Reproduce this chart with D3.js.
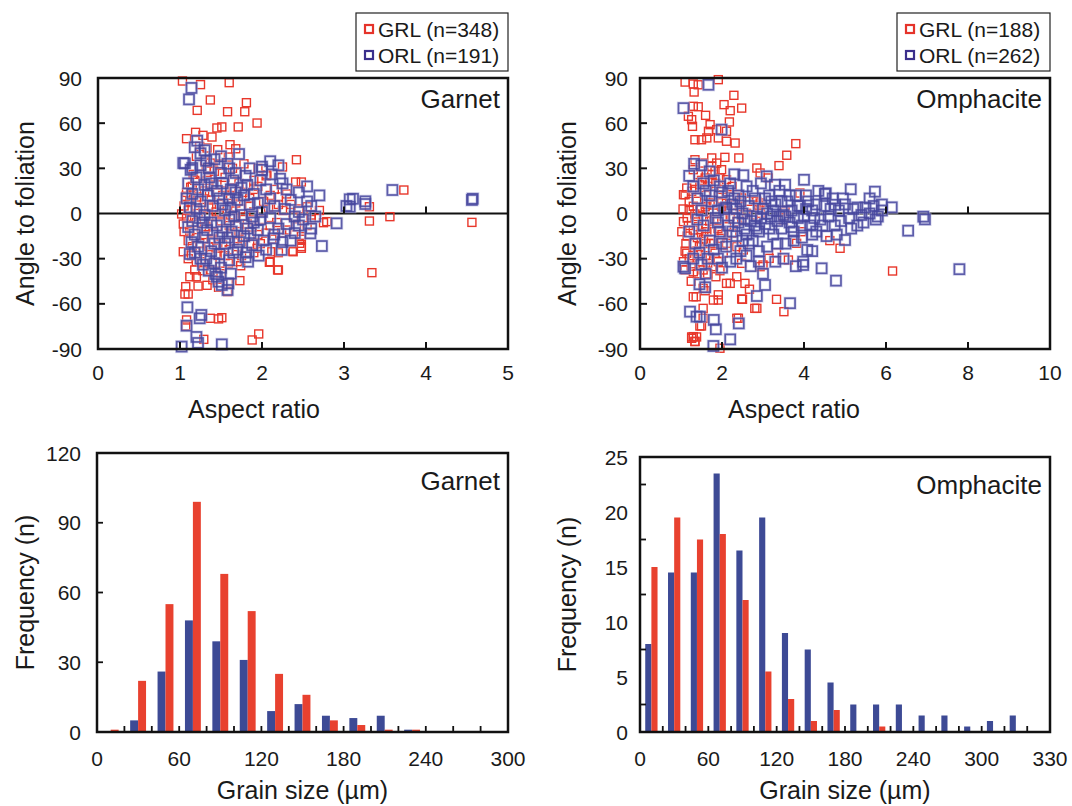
<!DOCTYPE html>
<html><head><meta charset="utf-8">
<script src="https://cdn.jsdelivr.net/npm/d3@7"></script>
<style>body{margin:0;background:#fff}svg{display:block}text{font-family:"Liberation Sans",Arial,sans-serif;fill:#1a1a1a}</style>
</head><body><svg id="c" width="1072" height="806"></svg>
<script>
// ---------- DATA ----------
const angleTicks = [-90,-60,-30,0,30,60,90];
const garnetAspectTicks = [0,1,2,3,4,5];
const omphAspectTicks = [0,2,4,6,8,10];
const garnetSizeTickPos = [0,60,120,180,240,300];
const garnetSizeTickLabels = ["0","60","120","180","240","300"];
const omphSizeTickPos = [0,60,120,180,240,300,360];
const omphSizeTickLabels = ["0","60","120","180","240","300","330"];
const garnetFreqTicks = [0,30,60,90,120];
const omphFreqTicks = [0,5,10,15,20,25];
const legendGarnet = ["GRL (n=348)","ORL (n=191)"];
const legendOmph = ["GRL (n=188)","ORL (n=262)"];

// Histogram (20 µm classes)
const garnetBins = ["0-20","20-40","40-60","60-80","80-100","100-120","120-140","140-160","160-180","180-200","200-220","220-240","240-260","260-280","280-300"];
const garnetHistGRL = [1,22,55,99,68,52,25,16,5,3,1,1,0,0,0];
const garnetHistORL = [0,5,26,48,39,31,9,12,7,6,7,1,0,0,0];
const omphBins = ["0-20","20-40","40-60","60-80","80-100","100-120","120-140","140-160","160-180","180-200","200-220","220-240","240-260","260-280","280-300","300-320","320-340","340-360"];
const omphHistGRL = [15,19.5,17.5,18,12,5.5,3,1,2,0,0.5,0,0,0,0,0,0,0];
const omphHistORL = [8,14.5,14.5,23.5,16.5,19.5,9,7.5,4.5,2.5,2.5,2.5,1.5,1.5,0.5,1,1.5,0];

// Scatter: [aspect ratio, angle to foliation]
const garnetGRL = [
[1.03,88],[1.25,85.6],[1.6,86.9],[1.37,75.4],[1.81,73.6],[1.21,68.5],[1.58,67.6],[1.79,67.6],[1.94,60.1],[1.71,57.5],
[1.51,57.5],[1.45,56.8],[1.19,53.9],[1.08,49.7],[1.28,51.9],[1.39,50.8],[1.61,45.7],[1.68,43],[1.46,42.4],[1.33,43.5],
[1.24,44.6],[1.59,37.5],[1.37,33.5],[1.36,29.1],[2.42,35.7],[2.25,30.9],[2.06,25.8],[1.13,17.4],[1.07,11.4],[2.41,20.9],
[2.48,20.9],[1.02,-0.3],[1.04,-7],[1.04,-25.4],[1.2,-32],[1.18,-37.5],[1.28,-38],[1.39,-33],[1.37,-37.5],[1.49,-33],
[1.59,-33],[1.74,-34.7],[1.73,-44.6],[1.59,-46.4],[1.58,-51.9],[1.47,-49],[1.22,-48.2],[1.33,-47.7],[1.07,-48.6],[1.06,-53.5],
[1.1,-53.5],[1.08,-70.7],[1.07,-74.7],[1.37,-69.6],[1.47,-70],[1.51,-69.2],[1.29,-83.6],[1.88,-84],[1.96,-80],[2.09,-32.4],
[2.2,-37.5],[2.38,-25.4],[2.48,-22],[2.48,-17.1],[2.42,-8.8],[2.24,-12.8],[2.12,-25.4],[1.94,-23.1],[3.31,4.5],[3.31,-5],
[3.56,-2.1],[4.56,-5.9],[3.34,-39.3],[2.75,-6.1],[2.79,-5.4],[2.6,-1],[2.55,4.5],[2.37,-25],[2.48,-23.1],[2.1,-32],
[2.19,-37.5],[2.48,-15.4],[2.46,-19.8],[3.73,15.6],
[1.25,26],[1.42,28],[1.55,24],[1.7,27],[1.9,22],[2.05,25],[1.33,22],
[1.15,18],[1.3,15],[1.45,19],[1.62,17],[1.78,14],[1.95,18],[2.15,16],[2.3,13],
[1.12,8],[1.22,11],[1.38,9],[1.52,12],[1.68,7],[1.85,10],[2.02,8],[2.2,11],[2.35,6],
[1.1,2],[1.28,4],[1.44,1],[1.58,5],[1.74,3],[1.9,1],[2.08,4],[2.25,2],[2.45,3],
[1.08,-3],[1.2,-6],[1.35,-2],[1.5,-5],[1.66,-3],[1.82,-7],[2.0,-4],[2.18,-6],[2.38,-2],
[1.12,-12],[1.26,-9],[1.4,-13],[1.55,-10],[1.72,-12],[1.88,-9],[2.05,-13],[2.3,-11],
[1.1,-18],[1.24,-20],[1.38,-17],[1.52,-21],[1.66,-18],[1.8,-16],[1.98,-20],[2.12,-17],
[1.14,-28],[1.28,-25],[1.44,-27],[1.6,-24],[1.75,-28],[1.9,-26],[2.2,-26],
[1.18,22],[1.36,14],[1.48,6],[1.62,-1],[1.3,-14],[1.46,-23],[1.72,20],[1.6,12],[1.15,-22],[1.95,-14],
[1.85,5],[1.4,-7],[1.22,0],[2.1,12],[1.7,-22],[1.05,5],[1.05,-12],[1.08,14],[2.6,-4],[2.7,2],[2.55,-8],[1.3,35],[1.5,33],[1.2,38],
[1.16,26],[1.32,30],[1.48,32],[1.64,30],[1.78,33],[1.95,30],
[1.2,8],[1.35,5],[1.55,15],[1.7,11],[1.9,16],[2.2,6],
[1.15,-2],[1.32,-9],[1.48,-1],[1.6,-8],[1.78,-4],[2.1,-8],
[1.2,-16],[1.35,-22],[1.5,-15],[1.68,-14],[1.85,-20],
[1.1,-30],[1.25,-32],[1.55,-28],[1.7,-32],
[1.2,-42],[1.4,-44],[1.5,-40],[1.12,-42]
];
const garnetORL = [
[1.14,83.4],[1.11,75.8],[1.21,48.4],[1.04,33.5],[1.15,30.2],[1.72,39.5],[2.0,31.1],[2.1,34.7],[2.22,23.1],[1.68,26.9],
[1.25,40],[1.32,35],[1.5,38],[1.58,33],[1.85,30],[1.06,33.3],[1.13,29],
[1.02,-88.4],[1.51,-86.9],[1.2,-82],[1.22,-86],[1.09,-62.3],[1.08,-74.5],[1.26,-67.4],[1.24,-69.6],[1.45,-42],
[1.59,-46.4],[1.58,-50.8],[1.51,-47.5],[1.47,-45.3],[1.43,-40.2],[1.81,-26],[1.83,-32],[2.24,-24.2],[2.14,-16.5],[1.12,-26.9],
[4.56,9],[3.07,9.4],[3.03,5],[3.07,4.5],[3.26,6.3],[2.91,-6.5],[2.73,-21.6],[2.59,-13.2],[3.59,15.6],[4.57,9.8],
[3.11,9.8],[3.26,8.1],
[1.2,24],[1.35,30],[1.5,27],[1.65,22],[1.8,25],[2.0,29],[2.2,32],
[1.15,13],[1.3,19],[1.45,15],[1.6,10],[1.75,17],[1.9,13],[2.05,16],[2.25,20],[2.45,14],
[1.12,4],[1.25,8],[1.4,5],[1.55,2],[1.7,9],[1.85,6],[2.0,1],[2.15,5],[2.35,9],[2.55,8],
[1.15,-5],[1.3,-1],[1.45,-8],[1.6,-4],[1.75,-1],[1.9,-6],[2.1,-3],[2.3,-7],[2.5,-4],[2.65,-2],
[1.18,-14],[1.33,-11],[1.48,-16],[1.63,-12],[1.78,-15],[1.95,-11],[2.15,-14],[2.4,-13],
[1.22,-22],[1.38,-25],[1.55,-20],[1.7,-24],[1.88,-21],[2.05,-24],
[1.25,-30],[1.42,-33],[1.6,-31],[1.35,-38],[1.38,20],[1.52,6],[1.68,-8],[1.28,-6],[1.62,16],[1.88,-2],
[1.1,20],[1.22,16],[1.36,24],[1.52,20],[1.68,14],[1.82,19],[1.98,22],[2.12,26],[2.3,16],
[1.08,10],[1.2,3],[1.34,12],[1.48,10],[1.62,4],[1.78,12],[1.95,7],[2.1,10],[2.28,3],[2.45,1],
[1.1,-9],[1.24,-3],[1.38,-6],[1.52,-12],[1.66,-2],[1.82,-10],[1.98,-4],[2.2,-10],[2.4,-2],
[1.14,-19],[1.28,-16],[1.42,-20],[1.58,-16],[1.72,-19],[1.86,-13],[2.02,-18],[2.25,-19],
[1.18,-26],[1.32,-30],[1.48,-27],[1.65,-26],[1.8,-29],[1.96,-28],
[1.28,-34],[1.5,-36],[1.62,-40],[1.25,32],[1.42,36],[1.6,30],[1.3,42],[1.18,44],
[2.45,-8],[2.6,5],[2.7,12],[2.55,18],[2.35,-18],[2.6,-10]
];
const omphGRL = [
[1.1,87.3],[1.3,86],[1.42,85.5],[1.91,88.9],[1.32,80.7],[2.29,78.5],[2.05,72.3],[2.2,68.3],[2.48,70],[1.3,71.2],
[1.42,70.9],[1.18,64.6],[1.26,62.3],[1.28,57.9],[1.6,65.2],[1.71,59],[2.18,60.8],[1.67,54.6],[1.87,55.7],[2.11,54.6],
[1.34,49],[1.5,49],[1.63,50.2],[1.91,50.2],[2.11,48],[2.32,46.8],[3.8,46.4],[3.58,38.7],[3.39,31.8],[2.85,30.2],
[2.93,26.9],[3.13,23.6],[2.41,36.9],[2.07,37.3],[1.75,36.9],[1.34,35.7],[1.3,29.1],[1.42,25.8],[1.54,33.5],[1.75,31.3],
[1.83,28],[1.06,12.5],[1.14,16.9],[3.9,13.6],[3.51,2.5],
[1.3,4.8],[1.38,8.1],[1.46,3.7],[1.63,5.9],[1.71,7],[1.91,12.5],[1.99,8.1],[2.2,11.4],[2.36,12.5],[2.48,10.3],
[2.64,8.1],[2.85,8.1],[2.93,7],[1.1,12.5],[1.26,14.8],[1.46,19.1],[1.59,23.6],[1.71,21.4],[1.95,23.6],[2.11,22.5],
[1.75,25.8],[1.99,29.1],[1.87,33.5],
[1.06,-5.4],[1.02,-12.1],[1.3,-11],[1.42,-8.8],[1.5,-13.2],[1.63,-12.1],[1.3,-19.8],[1.14,-26.4],[1.06,-32],[1.1,-37.5],
[1.3,-38.7],[1.71,-19.8],[1.83,-26.4],[1.71,-29.8],[1.79,-35.3],[1.54,-37.5],[2.03,-26.4],[1.91,-32],[2.48,-33.1],[2.36,-42],
[2.2,-46.4],[2.11,-46.4],[1.91,-54],[1.79,-57.5],[1.54,-49.7],[1.59,-51.3],[1.3,-55.3],[1.54,-63],[1.46,-74.7],[1.54,-69.6],
[1.26,-82],[1.34,-85],[1.38,-82],[2.4,-69.6],[2.48,-56.8],[2.85,-63],[2.67,-50.3],[2.56,-46.4],[3.33,-57],[3.51,-65.2],
[2.93,-35.3],[3.0,-34.2],[3.15,-29.8],[3.33,-26],[3.62,-30.9],[3.82,-19.8],[3.94,-12.1],[4.63,-18],[4.88,-23.1],[3.5,-4.3],
[3.54,1.2],[1.34,-0.3],[1.59,4.5],[1.79,5.6],[1.99,4.5],[2.11,6.8],[2.32,5.6],[2.44,4.5],[2.6,0.1],[2.76,-1],
[2.89,5.6],[2.93,0.1],[2.2,-2.1],[2.36,-5.4],[2.48,-3.2],[2.11,-8.8],[2.24,-13.2],[1.95,-16.5],[2.11,-19.8],[2.36,-22],
[2.52,-24.2],[6.16,-38.2],[1.95,-89.5],[1.3,-81.8],[1.34,-85],[1.26,-82.9],[1.5,-74.7],[1.37,-55.3],[1.91,-57.5],[2.5,-57],
[2.8,-63],[2.36,-69.6],[1.12,-20],[1.2,-30],[1.4,-25],[1.45,-32],[1.6,-28],[1.65,-40],[1.85,-42],[1.25,-45],
[1.18,-8],[1.55,-2],[1.8,-4],[1.9,-10],[1.4,-16],[1.6,-20],[1.75,-12],[2.0,-14],[1.2,2],[1.6,12],
[1.15,-15],[1.3,-28],[1.45,-22],[1.55,-17],[1.65,-33],[1.8,-20],[1.95,-38],[1.25,-35],[1.4,-40],[1.1,-25],
[1.2,8],[1.35,16],[1.5,22],[1.65,18],[1.85,20],[2.0,16],[2.25,18],[1.05,3],[1.15,-3],[1.4,-2],[1.7,-5],[2.05,-2],[2.15,2],[1.6,-10]
];
const omphORL = [
[1.67,85.5],[1.06,70],[1.99,55.7],[1.32,33],[1.5,32],[2.52,25.4],[3.09,24.7],[3.29,19.1],[3.54,19.1],[4.0,22.4],
[4.51,13],[4.76,5.8],[4.53,13.4],[5.14,16.1],[5.73,14.5],[6.14,4.1],[6.54,-11.4],[6.95,-3.9],[6.91,-2.1],[7.79,-37],
[4.78,-44.6],[4.43,-36.4],[3.98,-34.2],[3.98,-32],[4.08,-24.2],[5.0,-17.6],[3.66,-59.6],[2.85,-54.8],[3.05,-47.5],[2.2,-83.6],
[1.79,-88],[1.85,-76.9],[1.8,-70.7],[1.46,-68.5],[1.22,-65.2],[1.38,-68.5],[2.41,-73],[1.59,-49],[1.1,-36.4],[1.06,-35.3],
[1.3,18],[1.4,10],[1.5,2],[1.55,-8],[1.6,15],[1.7,-18],[1.75,8],[1.8,22],[1.85,-3],[1.95,-12],
[2.0,14],[2.05,3],[2.1,-22],[2.15,-8],[2.2,20],[2.25,6],[2.3,-3],[2.35,-15],[2.4,12],[2.45,-25],
[2.5,0],[2.55,-10],[2.6,18],[2.65,5],[2.7,-5],[2.75,-18],[2.8,10],[2.85,-2],[2.9,-12],[2.95,20],
[3.0,3],[3.05,-7],[3.1,-22],[3.15,12],[3.2,-2],[3.25,-14],[3.3,6],[3.35,-5],[3.4,15],[3.45,-10],
[3.5,-1],[3.55,-20],[3.6,8],[3.65,-6],[3.7,2],[3.75,-12],[3.8,12],[3.85,-3],[3.9,5],[3.95,-16],
[4.0,-2],[4.1,8],[4.15,-8],[4.2,2],[4.3,-12],[4.35,15],[4.4,-4],[4.5,5],[4.55,-15],[4.6,-2],
[4.7,10],[4.75,-8],[4.85,2],[4.9,-5],[5.0,6],[5.1,-3],[5.2,3],[5.3,-8],[5.4,-1],[5.5,4],
[5.6,0],[5.7,5],[5.8,-2],[5.9,2],[1.2,-12],[1.35,-20],[1.45,-26],[1.65,-30],[1.9,-30],[2.2,-32],
[1.6,-40],[1.45,-47],[2.7,-35],[2.9,-32],[2.3,10],[2.6,-14],[3.1,0],[3.4,-2],[2.8,-8],[3.7,-9],
[2.1,4],[2.4,-6],[3.2,8],[4.05,3],[4.25,-3],[1.7,28],[2.3,26],[1.9,2],[2.5,-18],[3.3,-32],
[1.55,20],[1.7,12],[1.9,-6],[2.0,-20],[2.15,15],[2.25,-12],[2.35,3],[2.45,8],[2.55,-4],[2.65,-20],
[2.75,15],[2.85,-10],[2.95,-3],[3.05,10],[3.15,-10],[3.25,2],[3.35,-20],[3.45,8],[3.55,-2],[3.65,12],
[3.75,-18],[3.85,5],[3.95,-8],[4.05,12],[4.2,-14],[4.3,6],[4.45,-8],[4.65,3],[4.8,-14],[4.95,10],
[5.15,-10],[5.3,4],[5.45,-6],[5.6,10],[5.75,-4],[5.9,6],[1.3,-30],[1.5,-34],[1.8,-24],[2.0,-36],
[2.35,-30],[2.6,-28],[2.9,-25],[3.0,-40],[3.5,-30],[3.8,-35],[4.2,-25],[1.2,25],[1.4,-4],[1.95,18]
];

// ---------- DRAW ----------
const svg = d3.select("#c");
const RED = "#e8372b", BLUE = "#46469e";
const HRED = "#e8412f", HBLUE = "#3d4a95";
const tickFont = 21, titleFont = 25, labelFont = 26;

function frame(g, p){
  g.append("rect").attr("x",p.x0).attr("y",p.y0).attr("width",p.x1-p.x0).attr("height",p.y1-p.y0)
   .attr("fill","none").attr("stroke","#111").attr("stroke-width",2.5);
}
function yTitle(text, x, yc){
  svg.append("text").attr("transform",`translate(${x},${yc}) rotate(-90)`).attr("text-anchor","middle")
    .attr("dominant-baseline","central").attr("font-size",titleFont).text(text);
}

function scatterPanel(p, grl, orl, xTicks, legendTexts, name){
  const x = d3.scaleLinear().domain([xTicks[0], xTicks[xTicks.length-1]]).range([p.x0,p.x1]);
  const y = d3.scaleLinear().domain([-90,90]).range([p.y1,p.y0]);
  const g = svg.append("g");
  g.append("line").attr("x1",p.x0).attr("x2",p.x1).attr("y1",y(0)).attr("y2",y(0)).attr("stroke","#111").attr("stroke-width",2);
  g.append("g").selectAll("rect").data(grl).join("rect")
    .attr("x",d=>x(d[0])-4).attr("y",d=>y(d[1])-4).attr("width",8).attr("height",8)
    .attr("fill","none").attr("stroke",RED).attr("stroke-width",1.4);
  // soft halo + line for ORL squares
  g.append("g").selectAll("rect").data(orl).join("rect")
    .attr("x",d=>x(d[0])-5).attr("y",d=>y(d[1])-5).attr("width",10).attr("height",10)
    .attr("fill","none").attr("stroke","#b9b9e2").attr("stroke-width",3.2).attr("stroke-opacity",0.55);
  g.append("g").selectAll("rect").data(orl).join("rect")
    .attr("x",d=>x(d[0])-5).attr("y",d=>y(d[1])-5).attr("width",10).attr("height",10)
    .attr("fill","none").attr("stroke",BLUE).attr("stroke-width",1.7).attr("stroke-opacity",0.85);
  const inner = xTicks.slice(1,-1);
  inner.forEach(t=>{
    g.append("line").attr("x1",x(t)).attr("x2",x(t)).attr("y1",p.y1).attr("y2",p.y1-7).attr("stroke","#111").attr("stroke-width",2);
    g.append("line").attr("x1",x(t)).attr("x2",x(t)).attr("y1",y(0)).attr("y2",y(0)-7).attr("stroke","#111").attr("stroke-width",2);
  });
  [-60,-30,30,60].forEach(t=>{
    g.append("line").attr("x1",p.x0).attr("x2",p.x0+7).attr("y1",y(t)).attr("y2",y(t)).attr("stroke","#111").attr("stroke-width",2);
  });
  frame(g,p);
  g.append("g").selectAll("text").data(angleTicks).join("text")
    .attr("x",p.x0-p.lblOff).attr("y",d=>y(d)).attr("text-anchor","end").attr("dominant-baseline","central")
    .attr("font-size",tickFont).text(d=>d);
  g.append("g").selectAll("text").data(xTicks).join("text")
    .attr("x",d=>x(d)).attr("y",p.y1+31).attr("text-anchor","middle").attr("font-size",tickFont).text(d=>d);
  svg.append("text").attr("x",p.xTitleX).attr("y",p.y1+69).attr("text-anchor","middle").attr("font-size",titleFont).text("Aspect ratio");
  yTitle("Angle to foliation", p.yTitleX, (p.y0+p.y1)/2);
  svg.append("text").attr("x",p.x1-8).attr("y",p.y0+30).attr("text-anchor","end").attr("font-size",labelFont).text(name);
  const L = p.legend;
  svg.append("rect").attr("x",L.x).attr("y",L.y).attr("width",L.w).attr("height",L.h).attr("fill","#fff").attr("stroke","#222").attr("stroke-width",1.2);
  const lc = ["#e5332a","#3b2f8c"];
  legendTexts.forEach((t,i)=>{
    const cy = L.y + 16 + i*26;
    svg.append("rect").attr("x",L.x+9).attr("y",cy-4).attr("width",8).attr("height",8).attr("fill","#fff").attr("stroke",lc[i]).attr("stroke-width",2.2);
    svg.append("text").attr("x",L.x+22).attr("y",cy).attr("dominant-baseline","central").attr("font-size",tickFont).text(t);
  });
}

function histPanel(p, bins, grl, orl, tickPos, tickLabels, freqTicks, minorY, name, barFrac){
  const xb = d3.scaleBand().domain(bins).range([p.x0,p.x1]);
  const xl = d3.scaleLinear().domain([0, bins.length*20]).range([p.x0,p.x1]);
  const y = d3.scaleLinear().domain([0, freqTicks[freqTicks.length-1]]).range([p.y1,p.y0]);
  const g = svg.append("g");
  const bw = xb.bandwidth()*barFrac;
  g.append("g").selectAll("rect").data(bins).join("rect")
    .attr("x",(d)=>xb(d)+xb.bandwidth()/2-bw).attr("width",bw)
    .attr("y",(d,i)=>y(orl[i])).attr("height",(d,i)=>y(0)-y(orl[i])).attr("fill",HBLUE);
  g.append("g").selectAll("rect").data(bins).join("rect")
    .attr("x",(d)=>xb(d)+xb.bandwidth()/2).attr("width",bw)
    .attr("y",(d,i)=>y(grl[i])).attr("height",(d,i)=>y(0)-y(grl[i])).attr("fill",HRED);
  bins.slice(1).forEach(b=>{
    g.append("line").attr("x1",xb(b)).attr("x2",xb(b)).attr("y1",p.y1).attr("y2",p.y1-6).attr("stroke","#111").attr("stroke-width",1.8);
  });
  minorY.forEach(t=>{
    g.append("line").attr("x1",p.x0).attr("x2",p.x0+6).attr("y1",y(t)).attr("y2",y(t)).attr("stroke","#111").attr("stroke-width",1.8);
  });
  frame(g,p);
  g.append("g").selectAll("text").data(freqTicks).join("text")
    .attr("x",p.x0-p.lblOff).attr("y",d=>y(d)).attr("text-anchor","end").attr("dominant-baseline","central")
    .attr("font-size",tickFont).text(d=>d);
  g.append("g").selectAll("text").data(tickPos).join("text")
    .attr("x",d=>xl(d)).attr("y",p.y1+34).attr("text-anchor","middle").attr("font-size",tickFont).text((d,i)=>tickLabels[i]);
  svg.append("text").attr("x",(p.x0+p.x1)/2).attr("y",p.y1+67).attr("text-anchor","middle").attr("font-size",titleFont).text("Grain size (µm)");
  yTitle("Frequency (n)", p.yTitleX, (p.y0+p.y1)/2);
  svg.append("text").attr("x",p.x1-8).attr("y",p.y0+37).attr("text-anchor","end").attr("font-size",labelFont).text(name);
}

scatterPanel({x0:98,x1:508,y0:78,y1:349,lblOff:16,xTitleX:254,yTitleX:25,legend:{x:356,y:13,w:152,h:58}},
  garnetGRL, garnetORL, garnetAspectTicks, legendGarnet, "Garnet");
scatterPanel({x0:640,x1:1050,y0:78,y1:349,lblOff:12,xTitleX:794,yTitleX:567,legend:{x:897,y:13,w:153,h:58}},
  omphGRL, omphORL, omphAspectTicks, legendOmph, "Omphacite");
histPanel({x0:97,x1:508,y0:453,y1:732,lblOff:16,yTitleX:25},
  garnetBins, garnetHistGRL, garnetHistORL, garnetSizeTickPos, garnetSizeTickLabels, garnetFreqTicks, [30,60,90], "Garnet", 0.29);
histPanel({x0:640,x1:1050,y0:457,y1:732,lblOff:12,yTitleX:567},
  omphBins, omphHistGRL, omphHistORL, omphSizeTickPos, omphSizeTickLabels, omphFreqTicks, [2.5,7.5,12.5,17.5,22.5], "Omphacite", 0.27);
</script></body></html>
